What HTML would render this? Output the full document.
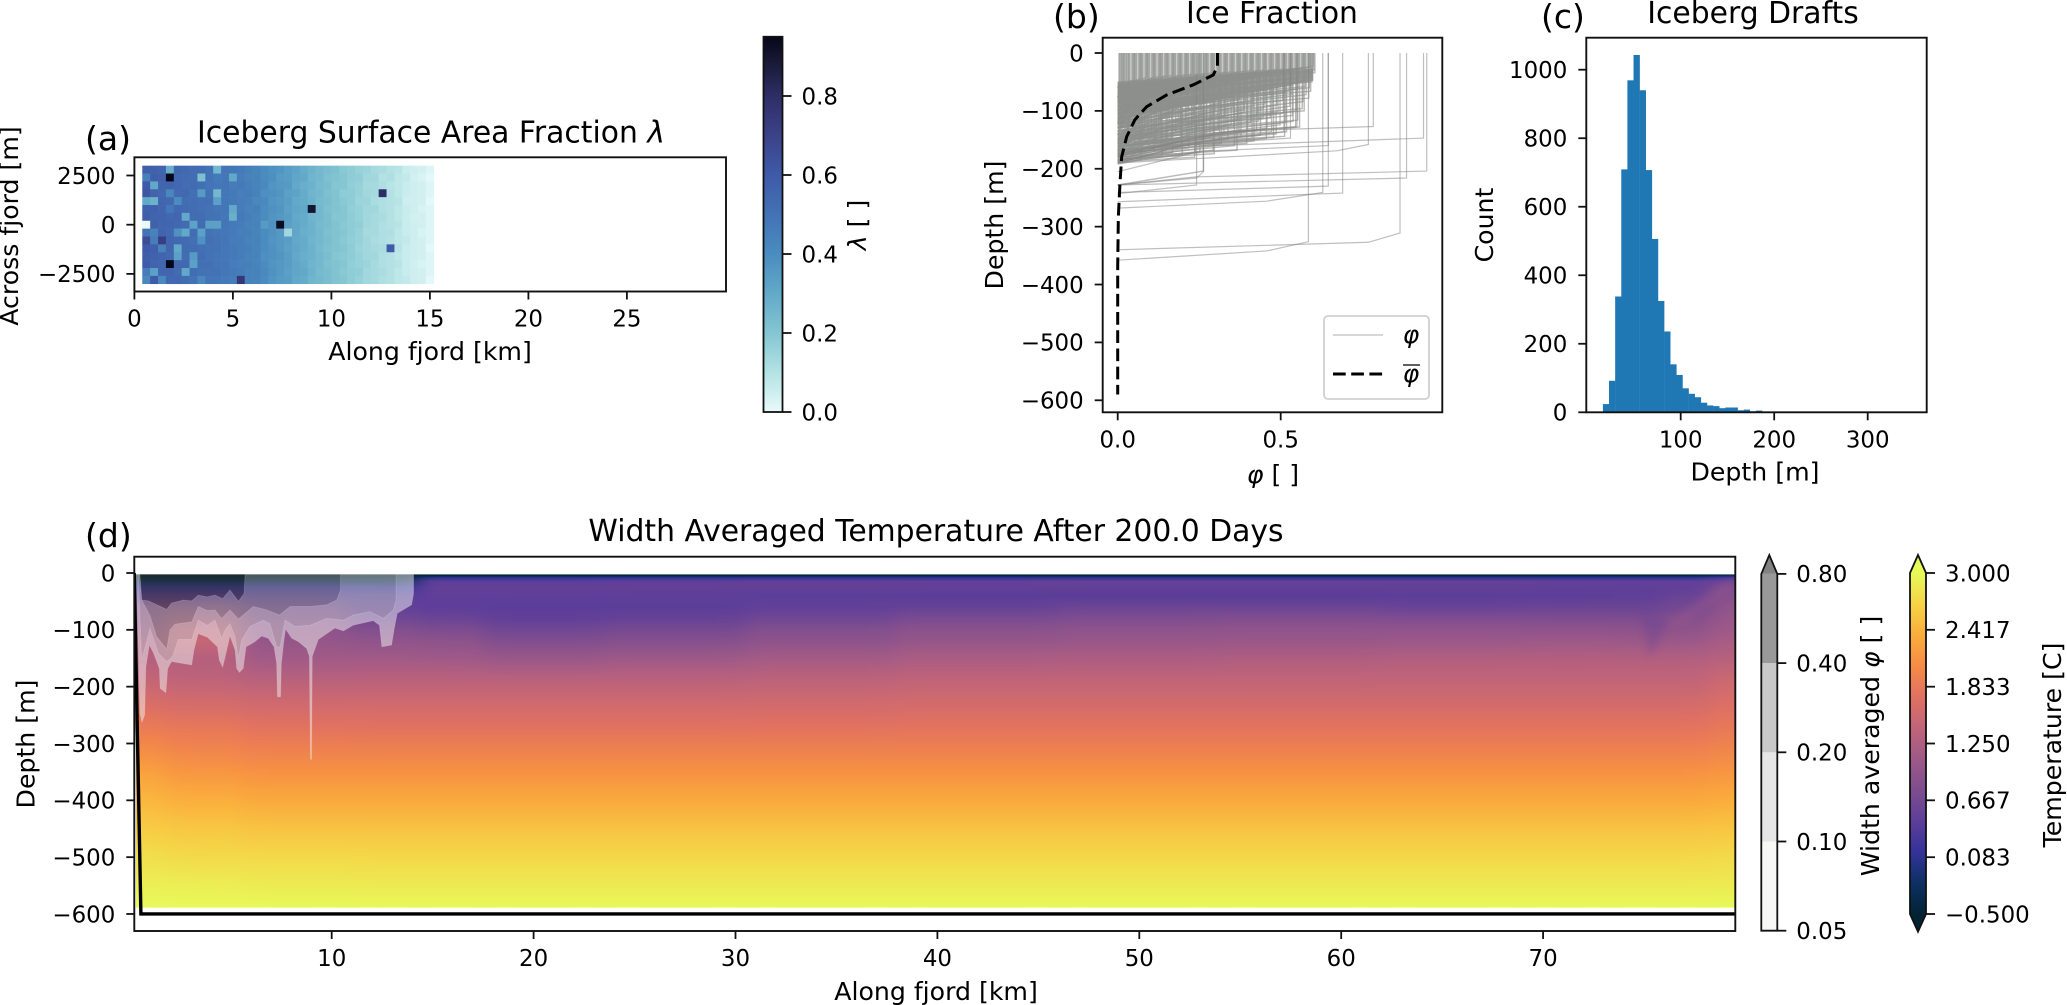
<!DOCTYPE html>
<html lang="en">
<head>
<meta charset="utf-8">
<title>Iceberg fjord figure</title>
<style>
html,body{margin:0;padding:0;background:#fff;width:2067px;height:1005px;overflow:hidden}
svg{display:block}
text{font-family:"DejaVu Sans","Liberation Sans",sans-serif;fill:#000}
.tick{font-size:22.9px}
.label{font-size:25.2px;text-anchor:middle}
.title{font-size:29.8px;text-anchor:middle}
.panel{font-size:33px}
</style>
</head>
<body>
<svg id="figure" xmlns="http://www.w3.org/2000/svg" width="2067" height="1005" viewBox="0 0 2067 1005">
  <defs>
    <filter id="field-blur" filterUnits="userSpaceOnUse" x="-200" y="500" width="2500" height="500" color-interpolation-filters="sRGB"><feGaussianBlur stdDeviation="11 0"/></filter>
    <filter id="streak-blur" filterUnits="userSpaceOnUse" x="1500" y="540" width="300" height="200" color-interpolation-filters="sRGB"><feGaussianBlur stdDeviation="4"/></filter>
    <clipPath id="field-clip"><rect x="136" y="574.3" width="1599" height="333.4"/></clipPath>
    <clipPath id="panel-d-clip"><rect x="134.3" y="556.7" width="1601" height="374.3"/></clipPath>
    <linearGradient id="lambda-gradient" x1="0" y1="1" x2="0" y2="0"></linearGradient>
    <linearGradient id="temp-gradient" x1="0" y1="1" x2="0" y2="0"></linearGradient>
  </defs>

  <g id="panel-a">
    <g id="heatmap"></g>
    <text class="title" x="431" y="142.5">Iceberg Surface Area Fraction <tspan font-style="italic">λ</tspan></text>
    <text class="panel" x="85" y="150">(a)</text>
    <text class="label" x="430" y="360">Along fjord [km]</text>
    <text class="label" transform="translate(18 226) rotate(-90)">Across fjord [m]</text>
    <text class="label" transform="translate(866 225) rotate(-90)"><tspan font-style="italic">λ</tspan> [ ]</text>
  </g>

  <g id="panel-b">
    <g id="ice-lines"></g>
    <text class="title" x="1272" y="23">Ice Fraction</text>
    <text class="panel" x="1053" y="28">(b)</text>
    <text class="label" x="1273" y="483"><tspan font-style="italic">φ</tspan> [ ]</text>
    <text class="label" transform="translate(1003 225) rotate(-90)">Depth [m]</text>
  </g>

  <g id="panel-c">
    <g id="hist-bars"></g>
    <text class="title" x="1753" y="23">Iceberg Drafts</text>
    <text class="panel" x="1541" y="28">(c)</text>
    <text class="label" x="1755" y="480.5">Depth [m]</text>
    <text class="label" transform="translate(1493 225) rotate(-90)">Count</text>
  </g>

  <g id="panel-d">
    <g clip-path="url(#field-clip)"><g id="field" filter="url(#field-blur)"></g>
      <g id="streaks" filter="url(#streak-blur)"></g></g>
    <g id="contours" clip-path="url(#field-clip)"></g>
    <g id="bathymetry" clip-path="url(#panel-d-clip)"></g>
    <text class="title" x="936" y="541">Width Averaged Temperature After 200.0 Days</text>
    <text class="panel" x="85" y="547">(d)</text>
    <text class="label" x="936" y="1000">Along fjord [km]</text>
    <text class="label" transform="translate(34.5 744) rotate(-90)">Depth [m]</text>
    <text class="label" transform="translate(1879 746) rotate(-90)">Width averaged <tspan font-style="italic">φ</tspan> [ ]</text>
    <text class="label" transform="translate(2061 745) rotate(-90)">Temperature [C]</text>
  </g>

  <g id="axes"></g>

  <g id="legend">
    <rect x="1324" y="316" width="105" height="83" rx="4" fill="#fff" fill-opacity="0.8" stroke="#d0d0d0" stroke-width="1.8"/>
    <line x1="1333" y1="335" x2="1383" y2="335" stroke="#808080" stroke-opacity="0.5" stroke-width="1.2"/>
    <text x="1411" y="343" style="font-size:25px;font-style:italic" text-anchor="middle">φ</text>
    <line x1="1333" y1="374" x2="1383" y2="374" stroke="#000" stroke-width="3" stroke-dasharray="12.7 5.5"/>
    <text x="1411" y="382" style="font-size:25px;font-style:italic" text-anchor="middle">φ</text>
    <line x1="1403" y1="365" x2="1420" y2="365" stroke="#000" stroke-width="1.2"/>
  </g>
</svg>

<script>
// ---- panel (a) data ----
const lambdaCellKm = 0.4;
const lambdaCellM = 400;
const lambdaStartKm = 0.4;
const lambdaTopM = 3000;
const lambdaPercent = [
[58,57,56,28,55,54,52,52,50,25,49,48,47,45,43,40,38,37,34,32,29,27,25,23,22,19,18,16,15,13,12,10,9,6,5,4,2],
[45,58,57,95,54,53,52,22,50,47,48,30,46,44,44,40,39,35,34,31,30,26,25,22,21,20,18,17,14,14,10,11,8,7,4,3,1],
[60,30,55,56,54,52,53,51,49,48,49,46,47,45,43,41,37,36,35,30,28,27,24,23,20,20,17,16,13,13,11,9,8,6,5,4,2],
[62,56,54,42,53,54,51,35,50,25,48,47,45,46,44,39,38,37,33,32,29,26,25,22,21,18,18,16,14,13,80,10,8,6,5,4,2],
[30,27,55,54,40,52,52,51,51,33,48,47,46,45,42,41,37,36,34,30,29,27,24,23,21,19,18,15,15,12,11,10,9,5,5,4,1],
[57,57,55,48,54,53,52,51,50,49,49,30,46,44,45,40,38,37,33,31,30,90,25,22,21,20,17,16,14,14,11,10,8,6,5,3,2],
[58,56,56,54,55,30,52,52,50,50,48,28,47,45,43,40,37,36,34,30,29,26,25,23,20,20,18,16,14,13,12,10,8,6,4,4,2],
[0,57,55,55,54,53,32,52,33,33,49,47,46,44,44,35,38,93,33,31,29,27,24,23,21,19,18,17,14,13,11,10,9,6,5,4,2],
[50,44,56,54,38,30,52,33,50,49,48,47,45,45,43,40,38,36,14,31,28,27,25,22,21,20,18,16,13,13,11,11,8,6,5,3,2],
[66,46,72,55,54,53,51,38,51,50,49,46,46,44,44,40,37,36,34,30,29,26,25,23,21,19,17,16,14,12,11,10,8,7,5,4,2],
[60,58,44,55,30,53,52,51,50,50,48,47,46,45,43,40,38,36,33,31,29,27,24,22,21,20,18,15,14,13,12,60,9,6,5,4,1],
[58,57,56,54,33,52,35,52,50,49,48,47,46,44,44,39,38,37,34,30,28,27,25,23,20,19,18,16,14,14,11,10,8,6,5,4,2],
[59,56,55,95,54,54,33,51,51,49,49,46,45,45,43,40,37,36,34,31,29,26,25,22,21,20,17,16,15,13,11,10,9,6,4,3,2],
[46,33,55,55,53,30,52,50,50,50,48,47,46,44,44,41,38,36,33,31,30,27,24,23,21,19,18,17,14,13,12,10,8,6,5,4,2],
[42,60,42,54,54,52,50,42,49,48,47,46,75,44,43,40,37,35,34,30,29,26,25,23,21,20,18,16,14,13,11,10,8,7,5,4,1]
];
const lambdaXTicks = [0,5,10,15,20,25];
const lambdaYTicks = [2500,0,-2500];
const lambdaBarTicks = [0,0.2,0.4,0.6,0.8];
const lambdaStops = [[0,'#e8fafa'],[0.1,'#b4e2e4'],[0.2,'#84c6d2'],[0.3,'#62a9c9'],[0.4,'#4a8cbf'],[0.5,'#4372b5'],[0.6,'#3f5aa8'],[0.7,'#3b4288'],[0.8,'#2e2e66'],[0.9,'#15152f'],[0.95,'#05071a']];

// ---- panel (b) data ----
// outline of the region where profiles overlap solidly: [fraction, depth]
const iceSolidOutline = [[0,-52],[.1,-50],[.25,-41],[.4,-36],[.56,-30],[.6,-26],[.6,-48],[.56,-52],[.405,-70],[.25,-87],[.12,-100],[.048,-110],[0,-125]];
// dense profiles: [surface fraction, depth of knee (m), depth where fraction reaches zero (m)]
const iceDense = [
[.004,54,60],[.009,62,70],[.013,50,76],[.018,72,84],[.023,56,92],[.028,84,98],[.033,64,106],[.038,92,114],[.043,58,120],[.048,100,130],[.053,70,136],[.058,52,142],[.063,108,150],[.068,76,156],[.073,118,162],[.078,60,168],[.083,128,174],[.088,84,178],[.093,138,182],[.098,54,100],
[.103,146,186],[.108,92,126],[.113,66,110],[.118,152,190],[.123,100,140],[.128,48,84],[.133,160,188],[.138,72,122],[.143,112,152],[.148,168,190],[.153,58,96],[.158,126,160],[.163,86,134],[.168,172,186],[.173,46,78],[.178,136,170],[.183,96,146],[.188,66,108],[.193,150,178],[.198,176,188],
[.203,52,88],[.208,118,158],[.213,82,128],[.218,164,184],[.223,44,72],[.228,140,176],[.233,104,150],[.238,172,190],[.243,62,104],[.248,128,166],[.253,92,138],[.258,155,182],[.263,204,228],[.268,48,80],[.273,114,156],[.278,78,122],[.283,146,174],[.288,40,68],[.293,168,184],[.298,100,144],
[.303,58,94],[.308,132,168],[.313,86,130],[.318,156,178],[.323,42,74],[.328,110,152],[.333,72,114],[.338,150,176],[.343,38,64],[.348,124,162],[.353,94,140],[.358,160,180],[.363,50,86],[.368,116,156],[.373,80,124],[.378,144,172],[.383,36,62],[.388,102,148],[.393,66,108],[.398,136,170],
[.403,44,78],[.408,120,158],[.413,84,128],[.418,152,174],[.423,34,60],[.428,108,150],[.433,70,112],[.438,142,168],[.443,40,70],[.448,96,142],[.453,60,100],[.458,130,164],[.463,32,58],[.468,112,152],[.473,76,118],[.478,146,170],[.483,36,64],[.488,90,134],[.493,54,92],[.498,124,160],
[.503,30,56],[.508,104,146],[.513,68,106],[.518,136,162],[.523,34,62],[.528,92,134],[.533,56,94],[.538,118,154],[.543,30,54],[.548,100,140],[.553,62,100],[.558,128,156],[.563,28,52],[.568,84,122],[.573,48,84],[.578,72,110],[.583,28,50],[.588,60,94],[.593,40,72],[.598,32,58],[.602,30,52],[.605,34,60],
[.02,52,60],[.05,46,58],[.07,44,60],[.09,42,62],[.11,42,64],[.13,40,62],[.15,39,66],[.17,38,64],[.19,38,68],[.21,37,66],[.23,36,70],[.25,36,68],[.27,35,72],[.29,34,70],[.31,34,74],[.33,33,72],[.35,32,76],[.37,32,74],[.39,31,78],[.41,30,76],[.43,30,80],[.45,29,78],[.47,29,82],[.49,28,80],[.51,27,84],[.53,27,82],[.55,26,86],[.57,25,84],[.59,24,88],[.6,23,70],
[.006,70,78],[.016,90,100],[.026,104,116],[.036,118,130],[.046,130,142],[.056,144,154],[.066,156,166],[.076,168,178],[.086,112,124],[.096,80,94],
[.106,60,84],[.116,94,118],[.126,134,150],[.136,178,186],[.146,78,104],[.156,108,130],[.166,146,164],[.176,66,92],[.186,124,146],[.196,160,176],
[.206,70,100],[.216,98,122],[.226,132,154],[.236,180,188],[.246,56,86],[.256,110,136],[.266,148,168],[.276,84,114],[.286,122,148],[.296,174,184],
[.306,68,98],[.316,106,130],[.326,140,162],[.336,54,84],[.346,90,118],[.356,128,152],[.366,168,180],[.376,64,96],[.386,98,128],[.396,156,172],
[.406,52,84],[.416,92,122],[.426,134,156],[.436,60,92],[.446,112,140],[.456,148,168],[.466,72,102],[.476,104,134],[.486,140,160],[.496,46,76],
[.506,82,112],[.516,120,146],[.526,66,96],[.536,108,136],[.546,128,150],[.556,44,72],[.566,96,124],[.576,58,88],[.586,78,106],[.596,50,76],
[.012,110,122],[.032,140,150],[.052,164,174],[.072,184,192],[.092,100,116],[.112,170,182],[.132,120,140],[.152,150,170],[.172,100,128],[.192,130,156],[.212,150,172],[.232,120,146],[.252,172,186],[.272,140,164],[.292,112,140],[.312,150,172],[.332,126,150],[.352,76,106],[.372,138,160],[.392,84,114],[.412,148,166],[.432,118,144],[.452,88,118],[.472,136,158],[.492,102,130],[.512,144,160],[.532,72,102],[.552,116,142],[.572,100,128],[.592,66,92]
];
// deep outlier profiles: lists of [fraction, depth]
const iceDeep = [
[[.948,0],[.948,-204],[.24,-214],[0,-228]],
[[.938,0],[.938,-147],[.3,-160],[0,-185]],
[[.886,0],[.886,-216],[0,-228]],
[[.866,0],[.866,-311],[.769,-327],[0,-340]],
[[.784,0],[.784,-127],[.35,-135],[0,-175]],
[[.769,0],[.769,-158],[.672,-169],[0,-190]],
[[.69,0],[.69,-242],[0,-257]],
[[.646,0],[.646,-230],[0,-241]],
[[.646,0],[.646,-160],[.25,-170],[0,-205]],
[[.629,0],[.629,-241],[.457,-256],[0,-268]],
[[.585,0],[.585,-326],[.457,-342],[0,-358]],
[[.55,0],[.55,-127],[.3,-138],[0,-180]],
[[.53,0],[.53,-147],[.2,-160],[0,-190]],
[[.51,0],[.51,-136],[.3,-150],[0,-178]],
[[.263,0],[.263,-205],[.242,-216],[0,-228]],
[[.242,0],[.242,-228],[0,-243]]
];
const iceMean = [[.306,0],[.306,-23.6],[.293,-38],[.232,-55],[.15,-72.5],[.089,-92.7],[.053,-115],[.0276,-144.5],[.0123,-179],[.007,-225],[.002,-283],[0,-369],[0,-590]];
const iceXTicks = [0,0.5];
const iceXLabels = ['0.0','0.5'];
const iceYTicks = [0,-100,-200,-300,-400,-500,-600];

// ---- panel (c) data ----
const histStart = 16.8;
const histWidth = 6.55;
const histCounts = [24,92,338,709,969,1043,940,707,506,325,236,140,109,70,54,44,28,20,18,12,14,14,6,8,3,5,1,2,0,1,0,0,0,1,0,0,0,0,0,0,1];
const histXTicks = [100,200,300];
const histYTicks = [0,200,400,600,800,1000];

// ---- panel (d) data ----
const fieldKm = [0.5,3,8,13.5,15,20,27,34,42,50,58,66,72,75,77,79.6];
const fieldDepth = [0,2,4,6,9,15,25,40,60,80,100,120,150,180,210,240,270,300,350,400,450,500,550,590];
const fieldTemp = [
[-.5,-.5,-.5,-.5,-.42,-.2,.15,.5,.9,1.0,1.1,1.2,1.3,1.4,1.55,1.7,1.85,2.0,2.25,2.45,2.62,2.78,2.92,3.0],
[-.5,-.5,-.5,-.5,-.42,-.2,.15,.5,.95,1.2,1.4,1.45,1.3,1.35,1.5,1.65,1.8,1.92,2.15,2.38,2.58,2.74,2.9,3.0],
[-.5,-.5,-.5,-.5,-.42,-.2,.15,.42,.7,.85,.95,1.0,1.12,1.28,1.45,1.6,1.74,1.88,2.1,2.33,2.55,2.73,2.88,3.0],
[-.5,-.5,-.5,-.5,-.42,-.2,.12,.4,.5,.64,.82,.95,1.12,1.3,1.46,1.6,1.73,1.87,2.1,2.33,2.55,2.72,2.87,3.0],
[-.5,-.5,-.45,-.2,.15,.46,.5,.48,.46,.58,.76,.92,1.1,1.3,1.46,1.6,1.73,1.87,2.1,2.33,2.55,2.72,2.87,3.0],
[-.5,-.5,-.45,-.2,.15,.46,.5,.47,.44,.5,.64,.8,1.04,1.28,1.46,1.6,1.73,1.87,2.1,2.33,2.55,2.72,2.87,3.0],
[-.5,-.5,-.45,-.2,.15,.48,.5,.46,.45,.54,.7,.85,1.08,1.3,1.46,1.6,1.73,1.87,2.1,2.33,2.55,2.72,2.87,3.0],
[-.5,-.5,-.45,-.2,.15,.5,.5,.45,.5,.64,.82,.93,1.14,1.33,1.48,1.61,1.74,1.87,2.1,2.33,2.55,2.72,2.87,3.0],
[-.5,-.5,-.45,-.2,.15,.52,.5,.44,.54,.72,.9,1.0,1.2,1.36,1.5,1.63,1.75,1.88,2.1,2.33,2.55,2.72,2.87,3.0],
[-.5,-.5,-.45,-.2,.15,.54,.5,.42,.6,.78,.93,1.03,1.22,1.37,1.5,1.63,1.75,1.88,2.1,2.33,2.55,2.72,2.87,3.0],
[-.5,-.5,-.45,-.2,.15,.54,.5,.43,.6,.8,.95,1.05,1.24,1.38,1.5,1.63,1.75,1.88,2.1,2.33,2.55,2.72,2.87,3.0],
[-.5,-.5,-.45,-.2,.15,.54,.5,.45,.56,.78,.95,1.07,1.26,1.39,1.5,1.63,1.75,1.88,2.1,2.33,2.55,2.72,2.87,3.0],
[-.5,-.5,-.45,-.2,.15,.52,.48,.46,.58,.78,.94,1.08,1.27,1.39,1.5,1.63,1.75,1.88,2.1,2.33,2.55,2.72,2.87,3.0],
[-.5,-.5,-.45,-.2,.15,.5,.48,.47,.58,.76,.92,1.06,1.26,1.39,1.5,1.63,1.75,1.88,2.1,2.33,2.55,2.72,2.87,3.0],
[-.5,-.5,-.45,-.2,.15,.5,.5,.56,.68,.82,.94,1.06,1.26,1.39,1.5,1.63,1.75,1.88,2.1,2.33,2.55,2.72,2.87,3.0],
[-.5,-.45,-.3,0,.35,.6,.75,.85,.95,1.02,1.1,1.18,1.32,1.48,1.6,1.72,1.82,1.93,2.15,2.36,2.57,2.74,2.88,3.0]
];
const fieldXTicks = [10,20,30,40,50,60,70];
const fieldYTicks = [0,-100,-200,-300,-400,-500,-600];
const streakDark = [[74.9,-75],[75.3,-148],[76.2,-85]];
const streakLight = [[76,-90],[79.3,-10],[79.5,-25],[76.8,-95]];
const thermalStops = ['#032333','#0d3064','#35329b','#5d3e99','#7e4d8f','#9e5987','#c16479','#e17161','#f68b45','#fbad3c','#f6d346','#e7fa5a'];
const tempBarMin = -0.5;
const tempBarMax = 3.0;
const tempBarTicks = [3.0,2.417,1.833,1.25,0.667,0.083,-0.5];
const tempBarLabels = ['3.000','2.417','1.833','1.250','0.667','0.083','\u22120.500'];
const phiLevels = [0.05,0.10,0.20,0.40,0.80];
const phiLevelLabels = ['0.05','0.10','0.20','0.40','0.80'];
const phiBarColors = ['#f8f8f6','#e6e6e6','#c8c8c8','#999999'];
const phiOverlayColors = ['#f1f1f1','#cdcdcd','#919191','#333333'];
const bathymetry = [[0.22,0],[0.55,-600],[80,-600]];
// φ contour outlines: [km, depth]
const contour05 = [[.31,-2],[.42,-135.5],[.5,-247],[.6,-263],[.74,-250],[.8,-165],[.97,-127],[1.17,-141],[1.46,-168],[1.5,-203],[1.79,-211],[1.88,-168],[2.07,-156],[2.57,-159],[3.07,-162],[3.18,-135.5],[3.39,-107],[3.84,-113],[4.34,-130],[4.43,-153],[4.6,-166],[4.73,-147],[4.96,-111],[5.21,-135.5],[5.29,-168],[5.43,-175],[5.62,-168],[5.76,-130],[6.2,-121],[6.53,-111],[6.86,-115],[7.14,-130],[7.27,-159],[7.31,-218],[7.47,-218],[7.51,-159],[7.64,-118],[7.72,-99],[8.02,-115],[8.35,-121],[8.76,-133],[8.89,-147],[8.94,-328],[9.01,-328],[9.04,-147],[9.34,-117],[10.16,-97],[10.58,-102],[11.07,-92],[12.06,-84],[12.36,-92],[12.48,-130],[12.97,-127],[13.09,-100],[13.25,-71],[13.96,-56],[14.06,-36],[14.06,-2]];
const contour10 = [[.42,-2],[.59,-153],[1.0,-97],[1.41,-141],[1.83,-156],[2.12,-147],[2.4,-117],[3.07,-117],[3.39,-83],[3.84,-92],[4.22,-83],[4.55,-115],[4.72,-100],[4.96,-89],[5.21,-112],[5.38,-150],[5.54,-118],[5.95,-94],[6.61,-83],[6.94,-89],[7.27,-130],[7.44,-130],[7.69,-83],[8.18,-94],[8.93,-92],[9.75,-80],[10.58,-83],[11.07,-74],[11.9,-68],[12.56,-80],[13.05,-65],[13.19,-47],[13.19,-2]];
const contour20 = [[.5,-2],[.59,-47.5],[1.0,-75],[1.33,-112],[1.83,-134],[1.99,-100],[2.24,-90],[3.07,-86],[3.39,-59],[3.84,-66],[4.22,-65],[4.55,-80],[4.96,-65],[5.38,-81],[6.12,-59],[6.78,-65],[7.41,-74],[7.94,-59],[8.93,-59],[9.75,-56],[10.25,-47.5],[10.44,-30],[10.44,-2]];
const contour40 = [[.5,-2],[.59,-47.5],[.92,-49],[1.83,-64],[2.07,-53],[2.65,-47.5],[3.07,-49],[3.39,-39],[3.84,-42],[4.22,-39],[4.6,-45],[4.96,-30],[5.38,-50],[5.66,-36],[5.71,-2]];

// ---- axis functions ----
const xA = v => 134.4 + v * 19.7;
const yA = v => 224.7 - v * 0.01968;
const yLambdaBar = v => 412 - v * 395;
const xB = v => 1117.7 + v * 326;
const yB = v => 53 - v * 0.5788;
const xC = v => 1680.7 + (v - 100) * 0.935;
const yC = v => 412.3 - v * 0.3426;
const xD = v => 331.7 + (v - 10) * 20.19;
const yD = v => 573 - v * 0.5683;
const yTempBar = v => 914 - (v - tempBarMin) * (341 / (tempBarMax - tempBarMin));
const yPhiBar = i => 930.7 - i * 89.2;

const NS = 'http://www.w3.org/2000/svg';
function make(tag, parent, props) {
  const node = document.createElementNS(NS, tag);
  for (const k in props) node.setAttribute(k, props[k]);
  parent.appendChild(node);
  return node;
}
const axesLayer = document.getElementById('axes');

function hexRgb(h) { return [parseInt(h.slice(1,3),16), parseInt(h.slice(3,5),16), parseInt(h.slice(5,7),16)]; }
function thermalColor(t) {
  const p = Math.max(0, Math.min(1, (t - tempBarMin) / (tempBarMax - tempBarMin))) * (thermalStops.length - 1);
  const i = Math.min(Math.floor(p), thermalStops.length - 2);
  const a = hexRgb(thermalStops[i]), b = hexRgb(thermalStops[i + 1]), f = p - i;
  return 'rgb(' + a.map((c, j) => Math.round(c + (b[j] - c) * f)).join(',') + ')';
}
function lambdaColor(v) {
  let i = 0;
  while (i < lambdaStops.length - 2 && v > lambdaStops[i + 1][0]) i++;
  const lo = lambdaStops[i], hi = lambdaStops[i + 1];
  const f = Math.max(0, Math.min(1, (v - lo[0]) / (hi[0] - lo[0])));
  const a = hexRgb(lo[1]), b = hexRgb(hi[1]);
  return 'rgb(' + a.map((c, j) => Math.round(c + (b[j] - c) * f)).join(',') + ')';
}

function frame(name, x, y, w, h) {
  const r = make('rect', axesLayer, {x: x, y: y, width: w, height: h, fill: 'none', stroke: '#111', 'stroke-width': 1.9});
  
  
}
function xTick(name, px, bottom, label) {
  const t = make('line', axesLayer, {x1: px, x2: px, y1: bottom, y2: bottom + 8, stroke: '#111', 'stroke-width': 1.8});
  
  
  const s = make('text', axesLayer, {x: px, y: bottom + 35, 'text-anchor': 'middle', class: 'tick'});
  s.textContent = label;
  
  
}
function yTick(name, py, left, label) {
  const t = make('line', axesLayer, {x1: left - 8, x2: left, y1: py, y2: py, stroke: '#111', 'stroke-width': 1.8});
  
  
  const s = make('text', axesLayer, {x: left - 19, y: py + 8.3, 'text-anchor': 'end', class: 'tick'});
  s.textContent = label;
  
  
}
function barTick(name, py, right, label) {
  const t = make('line', axesLayer, {x1: right, x2: right + 9, y1: py, y2: py, stroke: '#111', 'stroke-width': 1.8});
  
  
  const s = make('text', axesLayer, {x: right + 19, y: py + 8.3, 'text-anchor': 'start', class: 'tick'});
  s.textContent = label;
  
  
}
const signed = v => String(v).replace('-', '\u2212');

// ---- draw panel (a) ----
const heatmap = document.getElementById('heatmap');
lambdaPercent.forEach((row, r) => {
  row.forEach((pct, c) => {
    const x0 = xA(lambdaStartKm + c * lambdaCellKm), x1 = xA(lambdaStartKm + (c + 1) * lambdaCellKm);
    const y0 = yA(lambdaTopM - r * lambdaCellM), y1 = yA(lambdaTopM - (r + 1) * lambdaCellM);
    const cell = make('rect', heatmap, {x: x0, y: y0, width: x1 - x0 + 0.3, height: y1 - y0 + 0.3, fill: lambdaColor(pct / 100)});
    
    
  });
});
frame('panel-a', 134.4, 157.3, 591.6, 134.2);
lambdaXTicks.forEach(v => xTick('panel-a', xA(v), 291.5, String(v)));
lambdaYTicks.forEach(v => yTick('panel-a', yA(v), 134.4, signed(v)));

// lambda colorbar
const lambdaGrad = document.getElementById('lambda-gradient');
lambdaStops.forEach(s => { make('stop', lambdaGrad, {offset: s[0] / 0.95, 'stop-color': s[1]}); });
const lambdaBar = make('rect', axesLayer, {x: 763.5, y: yLambdaBar(0.95), width: 19, height: yLambdaBar(0) - yLambdaBar(0.95), fill: 'url(#lambda-gradient)', stroke: '#111', 'stroke-width': 1.8});


lambdaBarTicks.forEach(v => barTick('lambda-colorbar', yLambdaBar(v), 782.5, v.toFixed(1)));

// ---- draw panel (b) ----
const iceLayer = document.getElementById('ice-lines');
function icePath(points, stroke, width, opacity, dash) {
  const d = points.map(p => xB(p[0]).toFixed(2) + ',' + yB(p[1]).toFixed(2)).join(' ');
  const props = {points: d, fill: 'none', stroke: stroke, 'stroke-width': width, 'stroke-opacity': opacity};
  if (dash) props['stroke-dasharray'] = dash;
  return make('polyline', iceLayer, props);
}
const iceSolid = make('polygon', iceLayer, {points: iceSolidOutline.map(p => xB(p[0]).toFixed(2) + ',' + yB(p[1]).toFixed(2)).join(' '), fill: '#999b97'});


iceDense.forEach(p => {
  const line = icePath([[p[0], 0], [p[0], -p[1]], [0, -p[2]]], '#8e908c', 1.4, 0.62);
  
  
});
iceDeep.forEach(p => {
  const line = icePath(p, '#808080', 1.2, 0.5);
  
  
});
const meanLine = icePath(iceMean, '#000', 3, 1, '12.7 5.5');


frame('panel-b', 1102.7, 37.7, 339.6, 374.6);
iceXTicks.forEach((v, i) => xTick('panel-b', xB(v), 412.3, iceXLabels[i]));
iceYTicks.forEach(v => yTick('panel-b', yB(v), 1102.7, signed(v)));

// ---- draw panel (c) ----
const histLayer = document.getElementById('hist-bars');
histCounts.forEach((count, i) => {
  const x0 = xC(histStart + i * histWidth), x1 = xC(histStart + (i + 1) * histWidth);
  const bar = make('rect', histLayer, {x: x0, y: yC(count), width: x1 - x0 + 0.2, height: yC(0) - yC(count), fill: '#1f77b4'});
  
  
});
frame('panel-c', 1586.3, 37.7, 340.4, 374.6);
histXTicks.forEach(v => xTick('panel-c', xC(v), 412.3, String(v)));
histYTicks.forEach(v => yTick('panel-c', yC(v), 1586.3, String(v)));

// ---- draw panel (d) ----
const defs = document.querySelector('defs');
const fieldLayer = document.getElementById('field');
fieldKm.forEach((km, i) => {
  const gid = 'field-col-' + i;
  const grad = make('linearGradient', defs, {id: gid, gradientUnits: 'userSpaceOnUse', x1: 0, x2: 0, y1: yD(-fieldDepth[0]), y2: yD(-fieldDepth[fieldDepth.length - 1])});
  const total = fieldDepth[fieldDepth.length - 1];
  fieldTemp[i].forEach((t, j) => { make('stop', grad, {offset: fieldDepth[j] / total, 'stop-color': thermalColor(t)}); });
  const left = i === 0 ? -150 : xD((fieldKm[i - 1] + km) / 2);
  const right = i === fieldKm.length - 1 ? 2200 : xD((km + fieldKm[i + 1]) / 2);
  const col = make('rect', fieldLayer, {x: left, y: 574.3, width: right - left + 0.5, height: 333.4, fill: 'url(#' + gid + ')'});
  
  
});

const streakLayer = document.getElementById('streaks');
const polyPoints = pts => pts.map(p => xD(p[0]).toFixed(2) + ',' + yD(p[1]).toFixed(2)).join(' ');
const darkStreak = make('polygon', streakLayer, {points: polyPoints(streakDark), fill: '#5d3e99', 'fill-opacity': 0.3});


const lightStreak = make('polygon', streakLayer, {points: polyPoints(streakLight), fill: '#a0588a', 'fill-opacity': 0.35});



const contourLayer = document.getElementById('contours');
const ringPath = pts => 'M' + pts.map(p => xD(p[0]).toFixed(2) + ' ' + yD(p[1]).toFixed(2)).join('L') + 'Z';
const contourBands = [[contour05, contour10], [contour10, contour20], [contour20, contour40], [contour40, null]];
contourBands.forEach((band, i) => {
  const d = ringPath(band[0]) + (band[1] ? ringPath(band[1]) : '');
  const shape = make('path', contourLayer, {d: d, 'fill-rule': 'evenodd', fill: phiOverlayColors[i], 'fill-opacity': 0.5, stroke: '#fff', 'stroke-opacity': 0.12, 'stroke-width': 0.8});
  
  
});

const bathy = make('polyline', document.getElementById('bathymetry'), {points: polyPoints(bathymetry), fill: 'none', stroke: '#000', 'stroke-width': 3.4, 'stroke-linejoin': 'miter'});



frame('panel-d', 134.3, 556.7, 1601, 374.3);
fieldXTicks.forEach(v => xTick('panel-d', xD(v), 931, String(v)));
fieldYTicks.forEach(v => yTick('panel-d', yD(v), 134.3, signed(v)));

// phi colorbar
const phiBarLeft = 1761.3, phiBarRight = 1777.3;
phiBarColors.forEach((color, i) => {
  const seg = make('rect', axesLayer, {x: phiBarLeft, y: yPhiBar(i + 1), width: phiBarRight - phiBarLeft, height: yPhiBar(i) - yPhiBar(i + 1), fill: color});
  
  
});
const phiArrow = make('polygon', axesLayer, {points: phiBarLeft + ',' + yPhiBar(4) + ' ' + ((phiBarLeft + phiBarRight) / 2) + ',555 ' + phiBarRight + ',' + yPhiBar(4), fill: '#828282'});


const phiOutline = make('polygon', axesLayer, {points: phiBarLeft + ',' + yPhiBar(0) + ' ' + phiBarLeft + ',' + yPhiBar(4) + ' ' + ((phiBarLeft + phiBarRight) / 2) + ',555 ' + phiBarRight + ',' + yPhiBar(4) + ' ' + phiBarRight + ',' + yPhiBar(0), fill: 'none', stroke: '#111', 'stroke-width': 1.8});


phiLevels.forEach((v, i) => barTick('phi-colorbar', yPhiBar(i), phiBarRight, phiLevelLabels[i]));

// temperature colorbar
const tempBarLeft = 1910, tempBarRight = 1926;
const tempGrad = document.getElementById('temp-gradient');
thermalStops.forEach((c, i) => { make('stop', tempGrad, {offset: i / (thermalStops.length - 1), 'stop-color': c}); });
const tempBody = make('rect', axesLayer, {x: tempBarLeft, y: yTempBar(tempBarMax), width: tempBarRight - tempBarLeft, height: yTempBar(tempBarMin) - yTempBar(tempBarMax), fill: 'url(#temp-gradient)'});


const tempMid = (tempBarLeft + tempBarRight) / 2;
const tempTop = make('polygon', axesLayer, {points: tempBarLeft + ',' + yTempBar(tempBarMax) + ' ' + tempMid + ',555 ' + tempBarRight + ',' + yTempBar(tempBarMax), fill: thermalStops[thermalStops.length - 1]});


const tempBottom = make('polygon', axesLayer, {points: tempBarLeft + ',' + yTempBar(tempBarMin) + ' ' + tempMid + ',931.7 ' + tempBarRight + ',' + yTempBar(tempBarMin), fill: thermalStops[0]});


const tempOutline = make('polygon', axesLayer, {points: tempBarLeft + ',' + yTempBar(tempBarMin) + ' ' + tempBarLeft + ',' + yTempBar(tempBarMax) + ' ' + tempMid + ',555 ' + tempBarRight + ',' + yTempBar(tempBarMax) + ' ' + tempBarRight + ',' + yTempBar(tempBarMin) + ' ' + tempMid + ',931.7', fill: 'none', stroke: '#111', 'stroke-width': 1.8});


tempBarTicks.forEach((v, i) => barTick('temperature-colorbar', yTempBar(v), tempBarRight, tempBarLabels[i]));
</script>
</body>
</html>
